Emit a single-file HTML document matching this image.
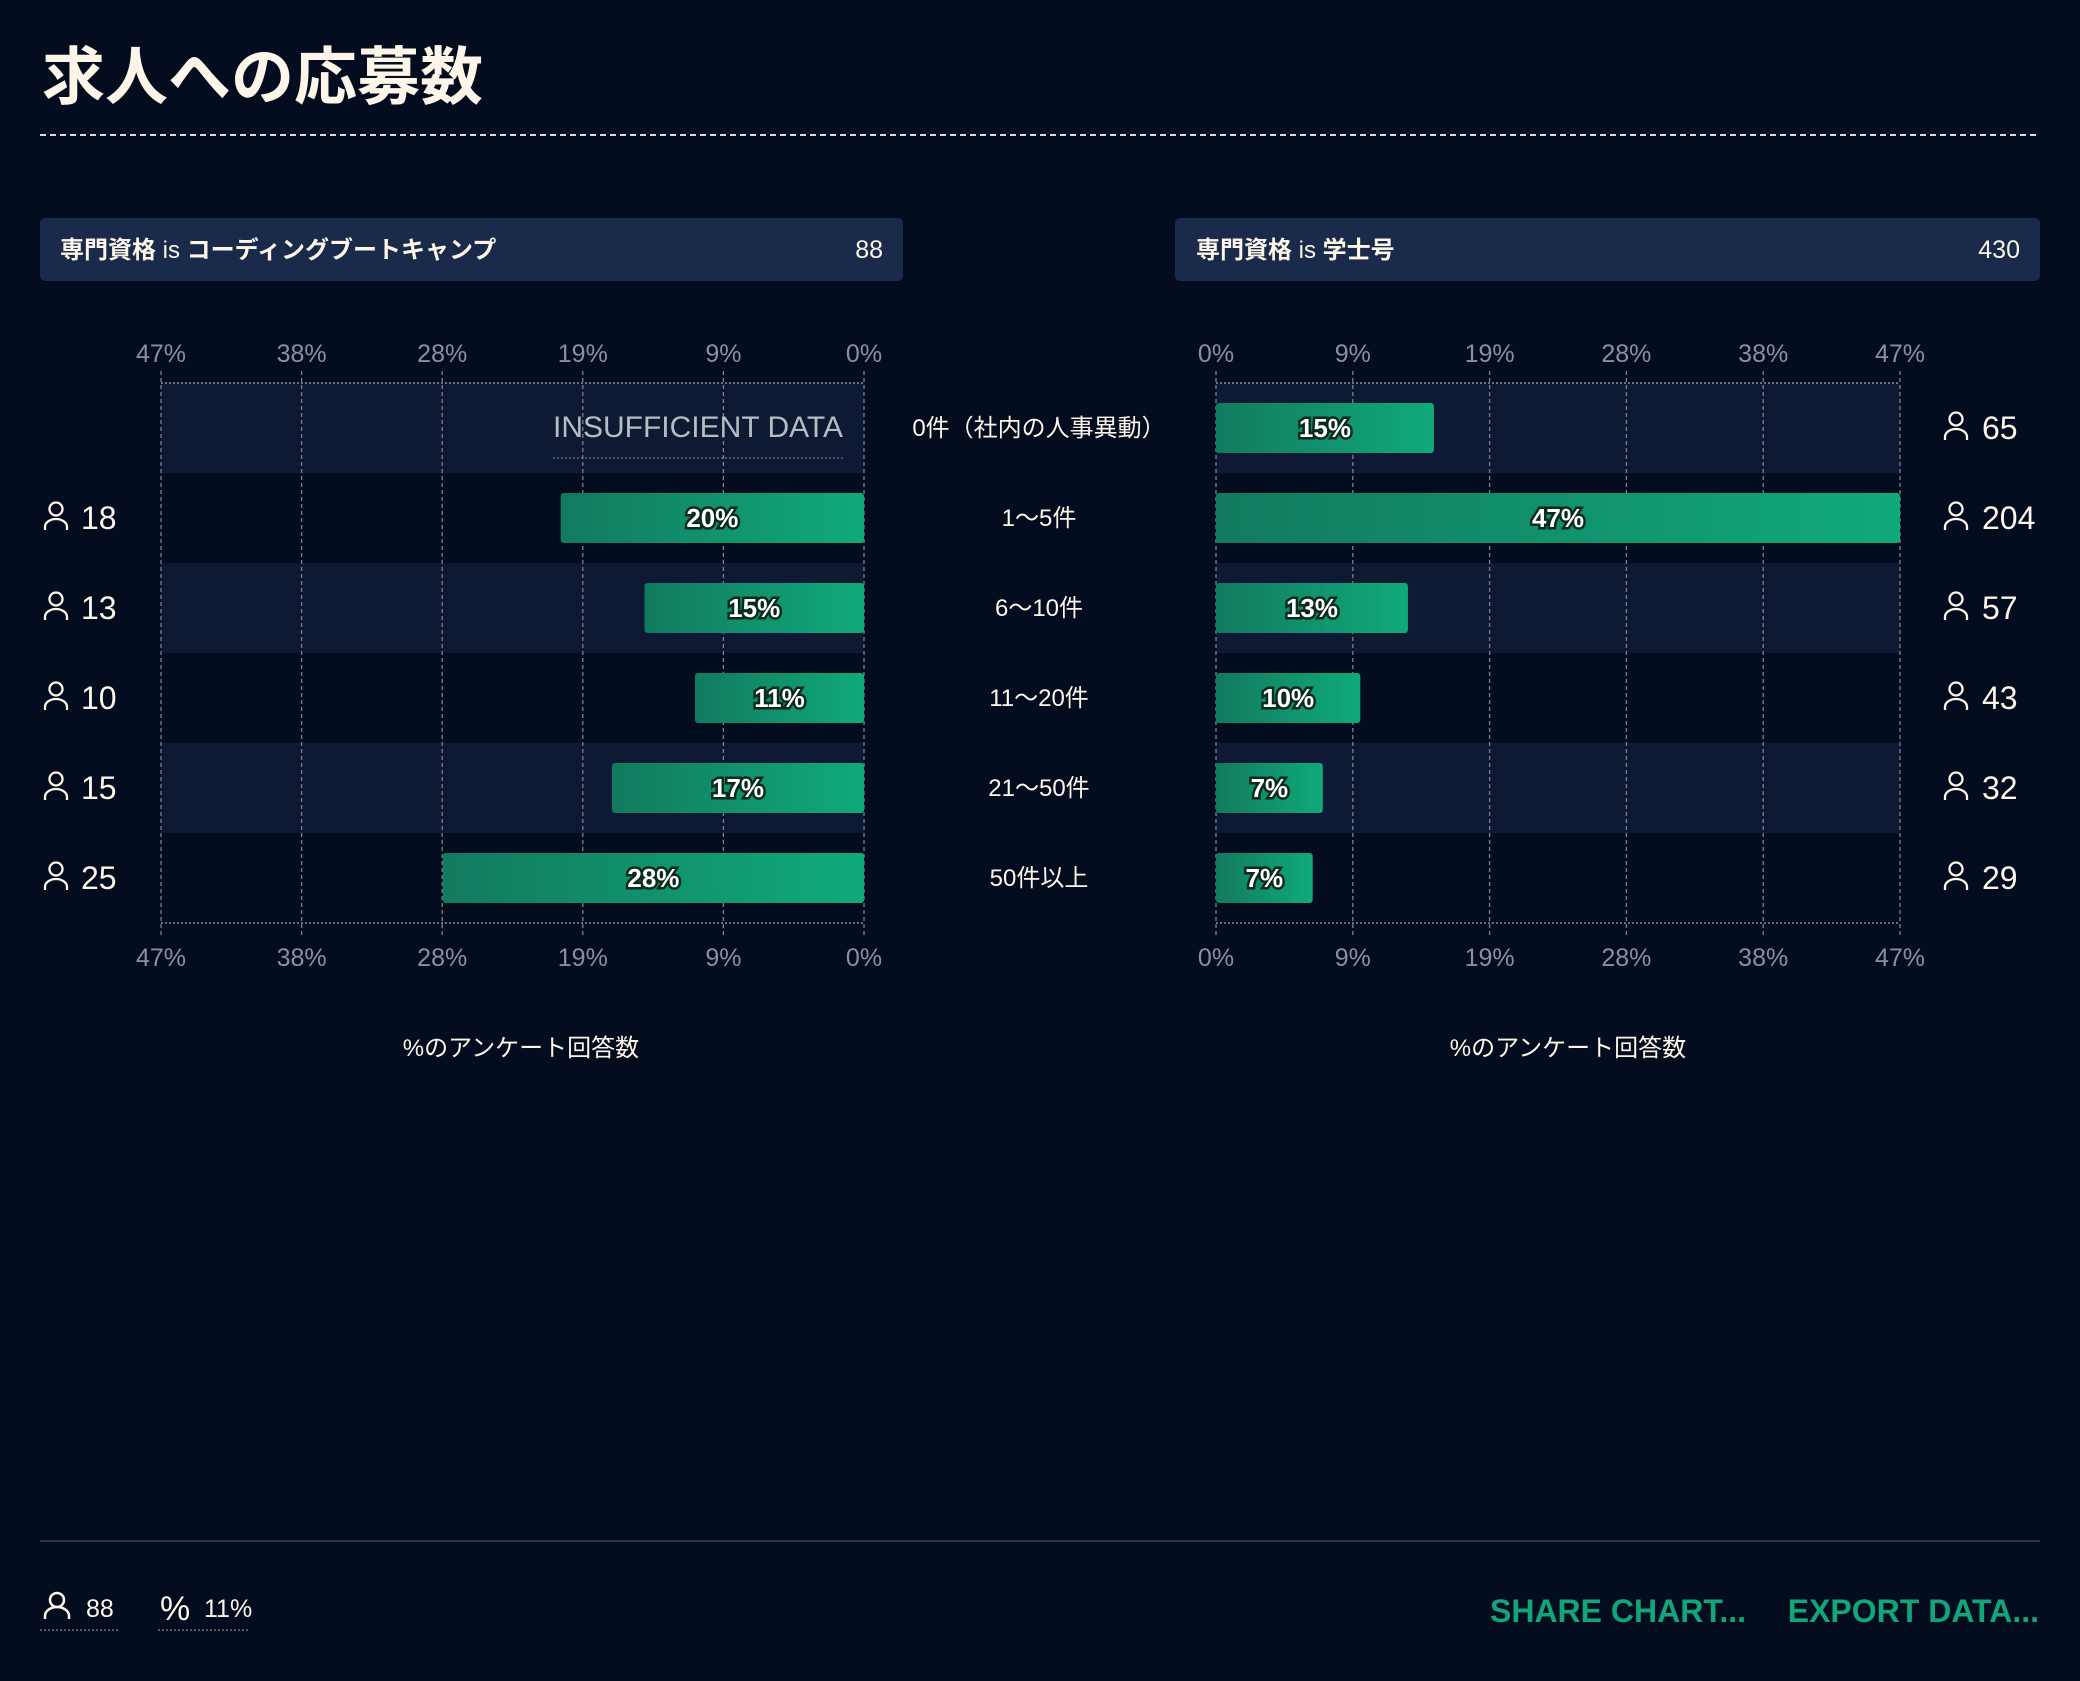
<!DOCTYPE html>
<html><head><meta charset="utf-8"><style>
body{margin:0;background:#040c1f;width:2080px;height:1676px;overflow:hidden;font-family:"Liberation Sans","Noto Sans CJK JP",sans-serif;}
svg text{font-family:"Liberation Sans","Noto Sans CJK JP",sans-serif;}
</style></head><body>
<svg id="c" width="2080" height="1676" xmlns="http://www.w3.org/2000/svg">
<defs><linearGradient id="g" x1="0" x2="1"><stop offset="0" stop-color="#127a5e"/><stop offset="1" stop-color="#10aa7a"/></linearGradient></defs>
<text x="42" y="99" font-size="63" font-weight="bold" fill="#fdf6e8">求人への応募数</text>
<line x1="40" y1="135" x2="2040" y2="135" stroke="#ddd" stroke-width="2" stroke-dasharray="6,4"/>
<rect x="40" y="218" width="863" height="63" rx="5" fill="#1a2a4a"/>
<text x="60" y="258" font-size="24" fill="#fdf6e8"><tspan font-weight="bold">専門資格</tspan> is <tspan font-weight="bold">コーディングブートキャンプ</tspan></text>
<text x="883" y="258" font-size="25" fill="#fdf6e8" text-anchor="end">88</text>
<rect x="1175" y="218" width="865" height="63" rx="5" fill="#1a2a4a"/>
<text x="1196" y="258" font-size="24" fill="#fdf6e8"><tspan font-weight="bold">専門資格</tspan> is <tspan font-weight="bold">学士号</tspan></text>
<text x="2020" y="258" font-size="25" fill="#fdf6e8" text-anchor="end">430</text>
<g id="plot"></g>
<text x="521" y="1056" font-size="24" fill="#fdf6e8" text-anchor="middle">%のアンケート回答数</text>
<text x="1568" y="1056" font-size="24" fill="#fdf6e8" text-anchor="middle">%のアンケート回答数</text>
<line x1="40" y1="1541" x2="2040" y2="1541" stroke="#3a4458" stroke-width="1.5"/>
<g>
<circle cx="57" cy="1600" r="7" fill="none" stroke="#fdf6e8" stroke-width="2.5"/><path d="M45 1619 v-3 a12 9 0 0 1 24 0 v3" fill="none" stroke="#fdf6e8" stroke-width="2.5"/>
<text x="86" y="1617" font-size="25" fill="#fdf6e8">88</text>
<line x1="40" y1="1630" x2="118" y2="1630" stroke="#aaa" stroke-dasharray="2,2"/></g>
<g>
<text x="160" y="1620" font-size="34" fill="#fdf6e8">%</text>
<text x="204" y="1617" font-size="25" fill="#fdf6e8">11%</text>
<line x1="158" y1="1630" x2="250" y2="1630" stroke="#aaa" stroke-dasharray="2,2"/></g>
<text x="1746" y="1622" font-size="32" font-weight="bold" fill="#12a57a" text-anchor="end">SHARE CHART...</text>
<text x="2039" y="1622" font-size="32" font-weight="bold" fill="#12a57a" text-anchor="end">EXPORT DATA...</text>
</svg>
<script>
const categories=["0件（社内の人事異動）","1〜5件","6〜10件","11〜20件","21〜50件","50件以上"];
const leftValues=[null,20.45,14.8,11.4,17.0,28.4];
const leftCounts=[null,18,13,10,15,25];
const rightValues=[15.1,47.4,13.3,10.0,7.4,6.7];
const rightCounts=[65,204,57,43,32,29];
const tickValues=[0,9.48,18.96,28.44,37.92,47.4];
const tickLabels=["0%","9%","19%","28%","38%","47%"];
const maxVal=47.4;
const NS="http://www.w3.org/2000/svg";
const plot=document.getElementById('plot');
function mk(tag,attrs,parent){const e=document.createElementNS(NS,tag);for(const k in attrs)e.setAttribute(k,attrs[k]);(parent||plot).appendChild(e);return e;}
const top0=383,rowH=90,bottom=top0+rowH*categories.length;
const L0=864,L1=161,R0=1216,R1=1900;
const xl=v=>L0+(L1-L0)*v/maxVal, xr=v=>R0+(R1-R0)*v/maxVal;
function person(x,y){const g=mk('g',{});
mk('circle',{cx:x,cy:y-9,r:6.5,fill:'none',stroke:'#fdf6e8','stroke-width':2.3},g);
mk('path',{d:`M${x-11} ${y+12} v-3 a11 8 0 0 1 22 0 v3`,fill:'none',stroke:'#fdf6e8','stroke-width':2.3},g);}
categories.forEach((c,i)=>{if(i%2===0){const a=mk('rect',{x:L1,y:top0+i*rowH,width:L0-L1,height:rowH,fill:'#0e1a33'});
const b=mk('rect',{x:R0,y:top0+i*rowH,width:R1-R0,height:rowH,fill:'#0e1a33'});}});
[[xl,'left'],[xr,'right']].forEach(([sc,side])=>{
const x0=sc(0),x1=sc(maxVal);
mk('line',{x1:Math.min(x0,x1),x2:Math.max(x0,x1),y1:top0,y2:top0,stroke:'#8a8f9a','stroke-dasharray':'2,2','stroke-width':1.5});
mk('line',{x1:Math.min(x0,x1),x2:Math.max(x0,x1),y1:bottom,y2:bottom,stroke:'#8a8f9a','stroke-dasharray':'2,2','stroke-width':1.5});
tickValues.forEach((v,i)=>{const x=sc(v);
const l=mk('line',{x1:x,x2:x,y1:top0-12,y2:bottom+12,stroke:'#7a808c','stroke-dasharray':'4,3','stroke-width':1.3});

const t1=mk('text',{x:x,y:362,'font-size':25,fill:'#8a90a0','text-anchor':'middle'});t1.textContent=tickLabels[i];

const t2=mk('text',{x:x,y:966,'font-size':25,fill:'#8a90a0','text-anchor':'middle'});t2.textContent=tickLabels[i];
});});
function barLabel(x,y,v){const t=mk('text',{x:x,y:y+9,'font-size':26,'font-weight':'bold',fill:'#fff',stroke:'#0a2a1e','stroke-width':5,'paint-order':'stroke','text-anchor':'middle'});t.textContent=Math.round(v)+'%';
}
categories.forEach((c,i)=>{const cy=top0+i*rowH+rowH/2;
const ct=mk('text',{x:1039,y:cy+8,'font-size':24,fill:'#fdf6e8','text-anchor':'middle'});ct.textContent=c;

if(leftValues[i]==null){const t=mk('text',{x:843,y:cy+9,'font-size':30,fill:'#b8bcc4','text-anchor':'end'});t.textContent='INSUFFICIENT DATA';

mk('line',{x1:553,x2:843,y1:cy+30,y2:cy+30,stroke:'#888','stroke-dasharray':'2,2'});}
else{const x=xl(leftValues[i]);const r=mk('rect',{x:x,y:cy-25,width:L0-x,height:50,rx:3,fill:'url(#g)'});

barLabel((x+L0)/2,cy,leftValues[i]);
person(56,cy);const n=mk('text',{x:81,y:cy+11,'font-size':32,fill:'#fdf6e8'});n.textContent=leftCounts[i];
}
const xr2=xr(rightValues[i]);const r2=mk('rect',{x:R0,y:cy-25,width:xr2-R0,height:50,rx:3,fill:'url(#g)'});

barLabel((R0+xr2)/2,cy,rightValues[i]);
person(1956,cy);const n2=mk('text',{x:1982,y:cy+11,'font-size':32,fill:'#fdf6e8'});n2.textContent=rightCounts[i];
});
</script>
</body></html>
